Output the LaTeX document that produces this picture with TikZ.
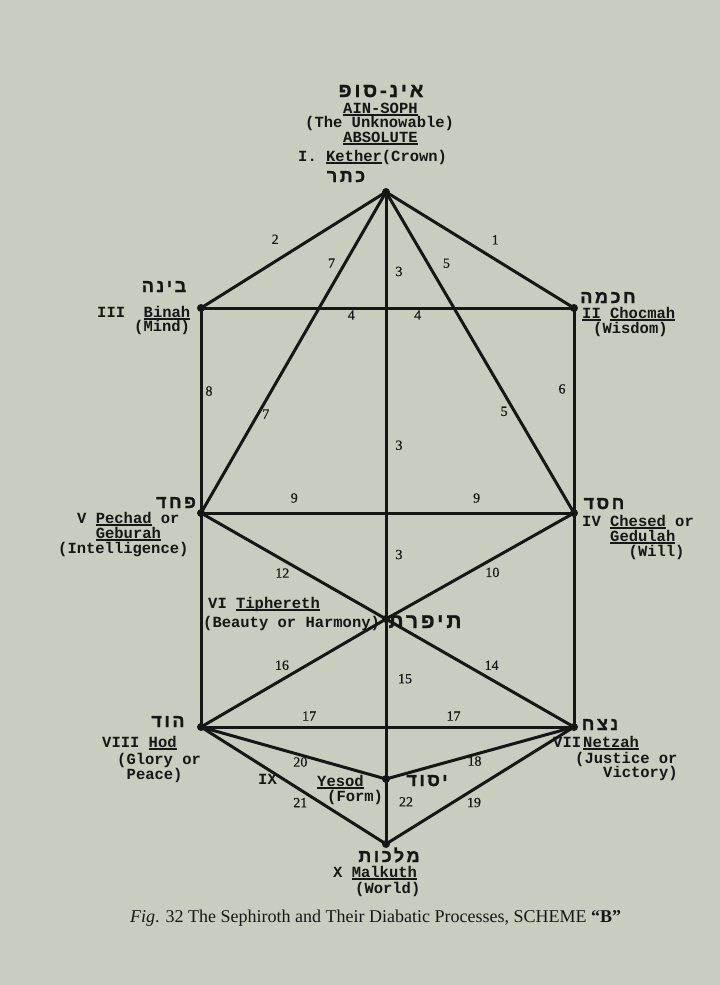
\documentclass[tikz,border=0pt]{standalone}
\usepackage{fontspec}
\setmainfont{Liberation Serif}
\setmonofont{Liberation Mono}
\newfontfamily\hebfont[Script=Hebrew, LetterSpace=14, BoldFeatures={FakeBold=1.2}]{Liberation Sans}
\newfontfamily\numfont[FakeBold=0.6]{Liberation Serif}
\TeXXeTstate=1
\usepackage{tikz}
\definecolor{paper}{RGB}{201, 205, 191}
\definecolor{ink}{RGB}{22, 22, 22}
\newcommand{\heb}[1]{\hebfont\bfseries\beginR #1\endR}
\newcommand{\undl}[1]{\setbox0\hbox{#1}\rlap{\rule[-2.6pt]{\wd0}{1.2pt}}\box0\relax}

\begin{document}
\begin{tikzpicture}[x=1pt, y=-1pt,
  channel/.style={line width=3pt, ink, line cap=round},
  typed/.style={font=\ttfamily\bfseries\fontsize{15.5}{16}\selectfont, text=ink, inner sep=0pt, anchor=base west},
  hebr/.style={font=\fontsize{18}{18}\selectfont, text=ink, inner sep=0pt, anchor=base},
  num/.style={font=\numfont\fontsize{14}{14}\selectfont, text=ink, inner sep=0pt}]

  \fill[paper] (0, 0) rectangle (720, 985);

  % the ten sephiroth
  \coordinate (kether) at (386, 192);
  \coordinate (binah) at (201, 308);
  \coordinate (chocmah) at (574, 308);
  \coordinate (pechad) at (201, 513);
  \coordinate (chesed) at (574, 513);
  \coordinate (tiphereth) at (386, 619);
  \coordinate (hod) at (201, 727);
  \coordinate (netzah) at (574, 727);
  \coordinate (yesod) at (386, 779);
  \coordinate (malkuth) at (386, 844);

  % channels
  \draw[channel] (kether) -- node[num, pos=.545, xshift=-10pt, yshift=16pt] {2} (binah);
  \draw[channel] (kether) -- node[num, pos=.533, xshift=9pt, yshift=14pt] {1} (chocmah);
  \draw[channel] (binah) -- node[num, pos=.403, yshift=-7pt] {4}
    node[num, pos=.581, yshift=-7pt] {4} (chocmah);
  \draw[channel] (kether) -- node[num, pos=.24, xshift=-10pt, yshift=6pt] {7}
    node[num, pos=.682, xshift=6pt, yshift=-3pt] {7} (pechad);
  \draw[channel] (kether) -- node[num, pos=.247, xshift=14pt, yshift=8pt] {5}
    node[num, pos=.671, xshift=-8pt, yshift=-4pt] {5} (chesed);
  \draw[channel] (kether) -- node[num, pos=.186, xshift=13pt] {3}
    node[num, pos=.593, xshift=13pt] {3}
    node[num, pos=.849, xshift=13pt] {3} (tiphereth);
  \draw[channel] (tiphereth) -- node[num, pos=.373, xshift=19pt] {15} (yesod);
  \draw[channel] (yesod) -- node[num, pos=.35, xshift=20pt] {22} (malkuth);
  \draw[channel] (binah) -- node[num, pos=.405, xshift=8pt] {8} (pechad);
  \draw[channel] (pechad) -- (hod);
  \draw[channel] (chocmah) -- node[num, pos=.395, xshift=-12pt] {6} (chesed);
  \draw[channel] (chesed) -- (netzah);
  \draw[channel] (pechad) -- node[num, pos=.25, yshift=15pt] {9}
    node[num, pos=.739, yshift=15pt] {9} (chesed);
  \draw[channel] (pechad) -- node[num, pos=.472, xshift=-6pt, yshift=-10pt] {12} (tiphereth);
  \draw[channel] (chesed) -- node[num, pos=.466, xshift=6pt, yshift=-10pt] {10} (tiphereth);
  \draw[channel] (tiphereth) -- node[num, pos=.53, xshift=-6pt, yshift=11pt] {16} (hod);
  \draw[channel] (tiphereth) -- node[num, pos=.53, xshift=6pt, yshift=11pt] {14} (netzah);
  \draw[channel] (hod) -- node[num, pos=.29, yshift=11pt] {17}
    node[num, pos=.677, yshift=11pt] {17} (netzah);
  \draw[channel] (hod) -- node[num, pos=.548, xshift=-2pt, yshift=-6.5pt] {20} (yesod);
  \draw[channel] (netzah) -- node[num, pos=.54, xshift=2pt, yshift=-6pt] {18} (yesod);
  \draw[channel] (hod) -- node[num, pos=.569, xshift=-6pt, yshift=-9pt] {21} (malkuth);
  \draw[channel] (netzah) -- node[num, pos=.564, xshift=6pt, yshift=-9.5pt] {19} (malkuth);

  \foreach \s in {kether, binah, chocmah, pechad, chesed, tiphereth, hod, netzah, yesod, malkuth}
    \fill[ink] (\s) circle (4);

  % names
  \node[hebr, font=\fontsize{20}{20}\selectfont] (ainsoph-h) at (381, 97) {\heb{אינ-סופ}};
  \node[typed] (ainsoph) at (343, 113) {\undl{AIN-SOPH}};
  \node[typed] (unknow) at (305, 127) {(The Unknowable)};
  \node[typed] (absolute) at (343, 142) {\undl{ABSOLUTE}};
  \node[typed] (kether-l) at (298, 161) {I. \undl{Kether}(Crown)};
  \node[hebr] (kether-h) at (346, 182) {\heb{כתר}};

  \node[hebr] (binah-h) at (164, 292) {\heb{בינה}};
  \node[typed] (binah-l) at (97, 317) {III~~\undl{Binah}};
  \node[typed] (binah-m) at (134, 331) {(Mind)};

  \node[hebr] (chocmah-h) at (608, 303) {\heb{חכמה}};
  \node[typed] (chocmah-l) at (582, 318) {\undl{II} \undl{Chocmah}};
  \node[typed] (chocmah-m) at (593, 333) {(Wisdom)};

  \node[hebr] (pechad-h) at (176, 508) {\heb{פחד}};
  \node[typed] (pechad-l) at (77, 523) {V \undl{Pechad} or};
  \node[typed] (geburah) at (95.6, 538) {\undl{Geburah}};
  \node[typed] (pechad-m) at (58, 553) {(Intelligence)};

  \node[hebr] (chesed-h) at (604, 509) {\heb{חסד}};
  \node[typed] (chesed-l) at (582, 526) {IV \undl{Chesed} or};
  \node[typed] (gedulah) at (610, 541) {\undl{Gedulah}};
  \node[typed] (chesed-m) at (628.5, 556) {(Will)};

  \node[typed] (tiphereth-l) at (208, 608) {VI \undl{Tiphereth}};
  \node[typed] (tiphereth-m) at (203, 627) {(Beauty or Harmony)};
  \node[hebr, font=\fontsize{21}{21}\selectfont] (tiphereth-h) at (425, 628) {\heb{תיפרת}};

  \node[hebr] (hod-h) at (168, 727) {\heb{הוד}};
  \node[typed] (hod-l) at (102, 747) {VIII \undl{Hod}};
  \node[typed] (hod-m) at (117, 764) {(Glory or};
  \node[typed] (hod-n) at (126.5, 779) {Peace)};

  \node[hebr] (netzah-h) at (600, 730) {\heb{נצח}};
  \node[typed] (netzah-n) at (553, 747) {VII};
  \node[typed] (netzah-l) at (583, 747) {\undl{Netzah}};
  \node[typed] (netzah-m) at (575, 763) {(Justice or};
  \node[typed] (netzah-o) at (603, 777) {Victory)};

  \node[typed] (yesod-n) at (258, 784) {IX};
  \node[typed] (yesod-l) at (317, 786) {\undl{Yesod}};
  \node[typed] (yesod-m) at (327, 801) {(Form)};
  \node[hebr] (yesod-h) at (427, 786) {\heb{יסוד}};

  \node[hebr] (malkuth-h) at (389, 862) {\heb{מלכות}};
  \node[typed] (malkuth-l) at (333, 877) {X \undl{Malkuth}};
  \node[typed] (malkuth-m) at (355, 893) {(World)};

  \node[anchor=base west, inner sep=0pt, text=ink, font=\fontsize{18}{18}\selectfont] (caption) at (130, 922)
    {\textit{Fig}. 32 The Sephiroth and Their Diabatic Processes, SCHEME \textbf{“B”}};
\end{tikzpicture}
\end{document}
